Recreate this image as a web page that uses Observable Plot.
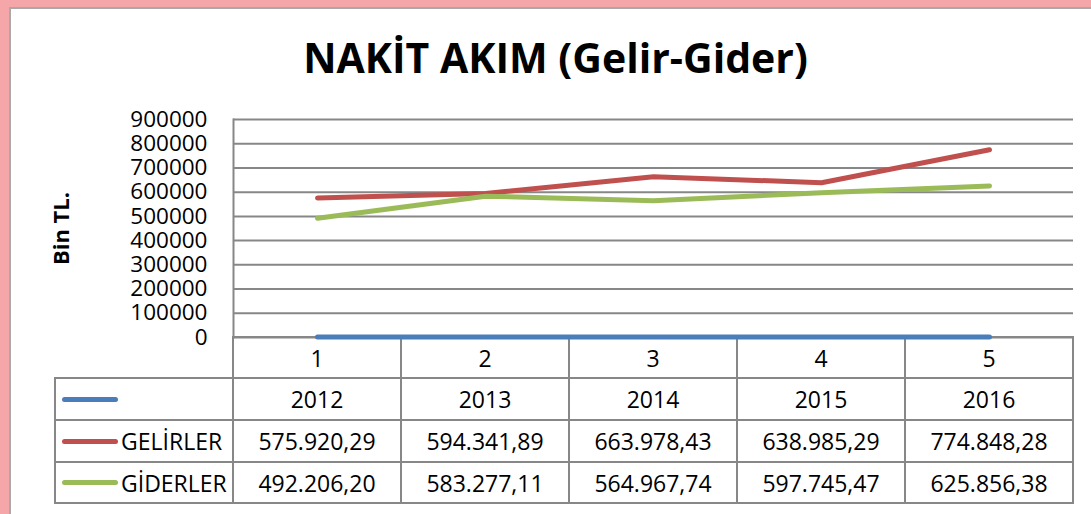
<!DOCTYPE html>
<html><head><meta charset="utf-8">
<script src="https://cdn.jsdelivr.net/npm/d3@7"></script>
<script src="https://cdn.jsdelivr.net/npm/@observablehq/plot@0.6"></script>
<style>
html,body{margin:0;padding:0;}
body{width:1091px;height:514px;background:#f4a6a8;position:relative;overflow:hidden;font-family:"Open Sans",sans-serif;color:#000;}
#card{position:absolute;left:9px;top:7px;width:1100px;height:520px;background:#fff;border-left:2px solid #a9a9a9;border-top:2px solid #a9a9a9;box-sizing:border-box;}
#title{position:absolute;left:10px;width:1091px;top:37px;text-align:center;font-weight:700;font-size:41px;line-height:1;white-space:nowrap;}
#tbl{position:absolute;left:0;top:0;width:1091px;height:514px;}
.cell{position:absolute;box-sizing:border-box;border:2px solid #878787;display:flex;align-items:center;justify-content:center;font-size:23px;white-space:nowrap;}
.lead{justify-content:flex-start;padding-left:6px;}
.key{display:inline-block;width:56px;height:5px;border-radius:3px;margin-right:3px;}
#chart{position:absolute;left:0;top:0;}
</style>
</head><body>
<div id="card"></div>
<div id="tbl"></div>
<div id="title"></div>
<div id="chart"></div>
<script>
const title = "NAKİT AKIM (Gelir-Gider)";
const yLabel = "Bin TL.";
const categories = [1, 2, 3, 4, 5];
const years = [2012, 2013, 2014, 2015, 2016];
const gelirler = [575920.29, 594341.89, 663978.43, 638985.29, 774848.28];
const giderler = [492206.20, 583277.11, 564967.74, 597745.47, 625856.38];
const seriesNames = ["", "GELİRLER", "GİDERLER"];
const seriesColors = ["#4a7ebb", "#c0504d", "#9bbb59"];
const yTicks = [0, 100000, 200000, 300000, 400000, 500000, 600000, 700000, 800000, 900000];

const seriesValues = [years, gelirler, giderler];
const rows = seriesValues.flatMap((vals, s) => vals.map((v, i) => ({cat: categories[i], value: v, series: s})));

document.getElementById("title").textContent = title;

const chart = Plot.plot({
  width: 1091, height: 514,
  marginTop: 119, marginBottom: 177, marginLeft: 233, marginRight: 18,
  style: {background: "transparent", fontFamily: "Open Sans", color: "#000", overflow: "visible"},
  x: {type: "point", domain: categories, padding: 0.5, axis: null},
  y: {domain: [0, 900000], axis: null},
  marks: [
    Plot.ruleY(yTicks, {stroke: "#878787", strokeWidth: 2}),
    Plot.frame({anchor: "left", stroke: "#878787", strokeWidth: 2}),
    Plot.axisY({ticks: yTicks, tickSize: 0, tickPadding: 26, fontSize: 22.5, tickFormat: d3.format("d"), label: null, fill: "#000"}),
    Plot.text([yLabel], {frameAnchor: "left", textAnchor: "middle", dx: -172, rotate: -90, fontSize: 22, fontWeight: "bold", fill: "#000"}),
    ...seriesValues.map((vals, s) => Plot.line(rows.filter(d => d.series === s), {
      x: "cat", y: "value", stroke: seriesColors[s], strokeWidth: 5, strokeLinecap: "round", strokeLinejoin: "round"
    }))
  ]
});
document.getElementById("chart").append(chart);

// data table under the chart, columns from the chart's x scale
const trFormat = d3.formatLocale({decimal: ",", thousands: ".", grouping: [3], currency: ["", ""]}).format(",.2f");
const xs = chart.scale("x");
const step = xs.apply(categories[1]) - xs.apply(categories[0]);
const rowTops = [337, 378, 420, 462, 503];
const leadLeft = 55;
const tbl = document.getElementById("tbl");
function cell(x0, x1, y0, y1, content, cls) {
  const d = document.createElement("div");
  d.className = "cell" + (cls ? " " + cls : "");
  d.style.left = (x0 - 1) + "px";
  d.style.top = (y0 - 1) + "px";
  d.style.width = (x1 - x0 + 2) + "px";
  d.style.height = (y1 - y0 + 2) + "px";
  if (typeof content === "string") d.textContent = content; else d.append(...content);
  tbl.append(d);
}
categories.forEach((c, i) => {
  const cx = xs.apply(c);
  cell(cx - step / 2, cx + step / 2, rowTops[0], rowTops[1], String(c));
  seriesValues.forEach((vals, s) => {
    const txt = s === 0 ? String(vals[i]) : trFormat(vals[i]);
    cell(cx - step / 2, cx + step / 2, rowTops[s + 1], rowTops[s + 2], txt);
  });
});
const left0 = xs.apply(categories[0]) - step / 2;
seriesValues.forEach((vals, s) => {
  const key = document.createElement("span");
  key.className = "key";
  key.style.background = seriesColors[s];
  cell(leadLeft, left0, rowTops[s + 1], rowTops[s + 2], [key, document.createTextNode(seriesNames[s])], "lead");
});
</script>
</body></html>
